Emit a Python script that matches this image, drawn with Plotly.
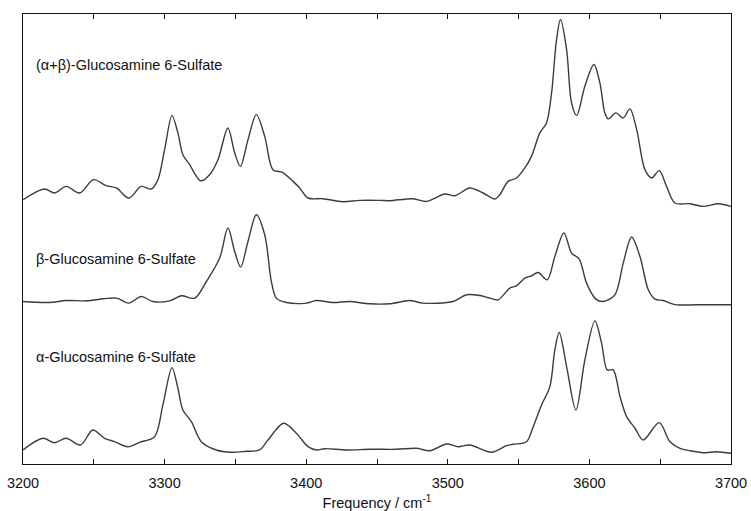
import plotly.graph_objects as go

# Frequencies (cm^-1) and intensities (arbitrary units, relative to each baseline)
ab_freq = [3200, 3215.2, 3222.3, 3230.5, 3239.9, 3249.8, 3258.8, 3265.9, 3274.8, 3283.5,
           3290.6, 3295.3, 3300.0, 3305.2, 3309.4, 3312.9, 3317.7, 3325.4, 3331.8, 3337.7,
           3344.7, 3349.5, 3353.5, 3358.9, 3364.8, 3370.7, 3376.5, 3383.2, 3390.7, 3395.4,
           3401.3, 3411.7, 3425.8, 3437.8, 3451.9, 3459.0, 3475.5, 3484.9, 3497.9, 3505.0,
           3515.5, 3524.9, 3533.2, 3536.7, 3542.6, 3548.5, 3554.4, 3559.1, 3565.0, 3569.7,
           3573.3, 3576.8, 3579.6, 3583.9, 3587.4, 3591.0, 3596.8, 3603.2, 3607.4, 3610.9,
           3613.3, 3618.7, 3623.9, 3628.6, 3633.4, 3639.2, 3644.0, 3649.3, 3654.5, 3660.4,
           3671.0, 3680.4, 3691.0, 3700]
ab_int = [0.00, 0.107, 0.067, 0.133, 0.067, 0.20, 0.14, 0.117, 0.017, 0.133,
          0.107, 0.20, 0.50, 0.84, 0.667, 0.45, 0.35, 0.19, 0.25, 0.40,
          0.717, 0.467, 0.333, 0.60, 0.85, 0.633, 0.30, 0.273, 0.183, 0.117,
          0.017, 0.01, -0.02, -0.007, -0.007, -0.01, 0.01, -0.017, 0.057, 0.04,
          0.117, 0.067, 0.007, 0.05, 0.183, 0.217, 0.317, 0.433, 0.667, 0.767,
          1.067, 1.60, 1.80, 1.50, 0.967, 0.84, 1.133, 1.35, 1.167, 0.867,
          0.807, 0.867, 0.817, 0.907, 0.70, 0.30, 0.217, 0.29, 0.133, -0.033,
          -0.04, -0.067, -0.04, -0.067]

b_freq = [3200, 3218.7, 3230.5, 3244.7, 3265.9, 3274.8, 3283.5, 3291.7, 3303.5, 3311.8,
          3321.2, 3329.5, 3338.9, 3344.7, 3349.5, 3353.7, 3358.9, 3364.8, 3370.7, 3375.4,
          3378.9, 3386.0, 3400.1, 3407.2, 3418.9, 3430.7, 3444.9, 3459.0, 3473.1, 3482.5,
          3503.7, 3513.2, 3522.6, 3529.7, 3535.5, 3543.8, 3548.5, 3554.4, 3559.1, 3563.8,
          3570.2, 3575.6, 3582.0, 3587.4, 3592.8, 3598.0, 3604.6, 3609.7, 3618.0, 3623.9,
          3629.8, 3635.7, 3641.6, 3646.3, 3652.1, 3656.9, 3661.6, 3675.8, 3700]
b_int = [0.003, -0.007, 0.013, 0.01, 0.037, -0.013, 0.053, 0.003, 0.01, 0.06,
         0.037, 0.203, 0.437, 0.737, 0.503, 0.347, 0.603, 0.87, 0.67, 0.203,
         0.037, -0.007, -0.013, 0.013, -0.007, 0.003, -0.02, -0.02, 0.013, -0.013,
         0.003, 0.07, 0.063, 0.037, 0.02, 0.137, 0.16, 0.237, 0.26, 0.293,
         0.22, 0.453, 0.687, 0.487, 0.427, 0.187, 0.027, 0.003, 0.07, 0.387,
         0.647, 0.453, 0.12, 0.027, 0.013, -0.013, -0.03, -0.03, -0.03]

a_freq = [3200, 3214.0, 3222.3, 3230.5, 3240.6, 3249.3, 3257.6, 3264.7, 3274.1, 3282.3,
          3292.9, 3298.8, 3305.2, 3309.4, 3312.9, 3318.9, 3325.9, 3336.5, 3347.1, 3357.7,
          3367.1, 3373.0, 3384.1, 3393.1, 3401.3, 3407.2, 3413.1, 3428.4, 3444.9, 3463.7,
          3477.9, 3487.3, 3499.1, 3507.3, 3515.5, 3530.9, 3541.5, 3546.1, 3555.6, 3560.3,
          3566.2, 3572.1, 3575.6, 3578.7, 3583.9, 3590.5, 3596.8, 3603.9, 3608.6, 3612.6,
          3616.8, 3621.6, 3626.3, 3632.2, 3638.0, 3649.3, 3656.9, 3664.0, 3671.0, 3680.4,
          3689.9, 3700]
a_int = [0.00, 0.117, 0.073, 0.117, 0.05, 0.20, 0.117, 0.083, 0.033, 0.077,
         0.133, 0.45, 0.823, 0.617, 0.40, 0.283, 0.083, 0.00, -0.023, -0.013,
         0.00, 0.10, 0.267, 0.167, 0.033, 0.00, 0.013, 0.00, 0.007, 0.007,
         0.017, -0.007, 0.06, 0.033, 0.05, -0.023, 0.043, 0.057, 0.083, 0.233,
         0.45, 0.633, 1.00, 1.173, 0.833, 0.40, 0.90, 1.29, 1.067, 0.80,
         0.80, 0.533, 0.333, 0.217, 0.10, 0.273, 0.083, 0.017, -0.007, -0.027,
         -0.017, -0.033]

names = ["(α+β)-Glucosamine 6-Sulfate", "β-Glucosamine 6-Sulfate", "α-Glucosamine 6-Sulfate"]
offsets = [2.64, 1.62, 0.14]
label_y = [3.99, 2.05, 1.07]

FONT = "Liberation Sans, Arial, Helvetica, sans-serif"
LINE = "#3c3c3c"
FS = 14.5

fig = go.Figure()
series = [(ab_freq, ab_int), (b_freq, b_int), (a_freq, a_int)]
for (fx, fy), off, name in zip(series, offsets, names):
    fig.add_trace(go.Scatter(
        x=fx, y=[v + off for v in fy], mode="lines", name=name,
        line=dict(color=LINE, width=1.4, shape="spline", smoothing=0.9),
        showlegend=False, hoverinfo="skip"))

for name, ly in zip(names, label_y):
    fig.add_annotation(x=3207.6, y=ly, xref="x", yref="y", text=name,
                       showarrow=False, xanchor="left", yanchor="middle",
                       font=dict(family=FONT, size=FS, color="#111"))

fig.update_layout(
    width=751, height=511,
    margin=dict(l=23, r=20, t=14, b=47),
    paper_bgcolor="white", plot_bgcolor="white",
    font=dict(family=FONT, size=FS, color="#111"),
    xaxis=dict(range=[3200, 3700], tick0=3200, dtick=100,
               ticks="inside", ticklen=5, tickwidth=1, tickcolor="#111",
               minor=dict(dtick=50, ticks="inside", ticklen=5, tickwidth=1,
                          tickcolor="#111", showgrid=False),
               ticklabelstandoff=5, automargin=False,
               showline=True, linecolor="#111", linewidth=1.2, mirror="ticks",
               showgrid=False, zeroline=False,
               title=dict(text="Frequency / cm<sup>-1</sup>", standoff=10,
                          font=dict(family=FONT, size=FS, color="#111"))),
    yaxis=dict(range=[0, 4.495], showticklabels=False, ticks="", automargin=False,
               showline=True, linecolor="#111", linewidth=1.2, mirror=True,
               showgrid=False, zeroline=False),
)

fig.write_html("out.html")
